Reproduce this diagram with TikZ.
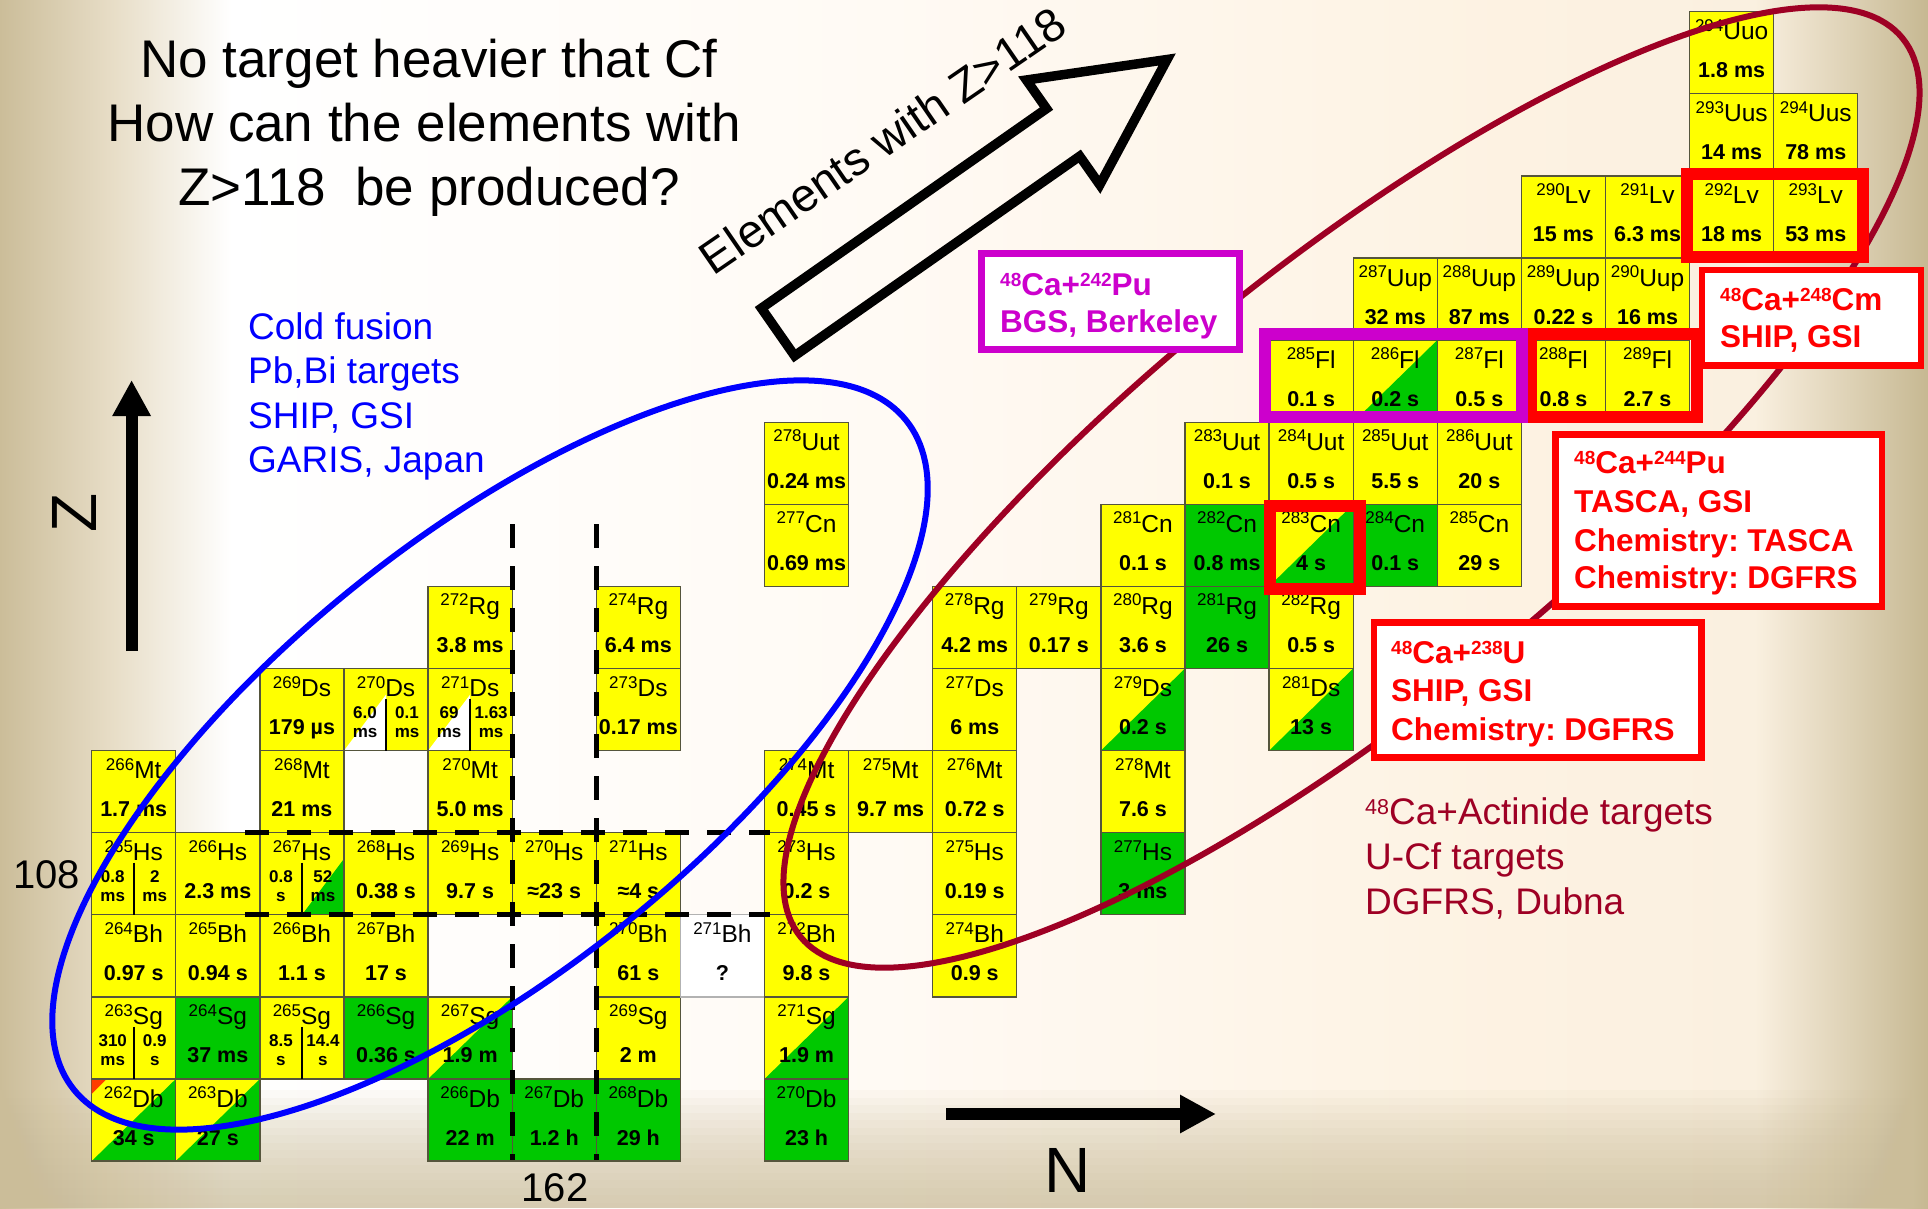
\documentclass[tikz,border=0pt]{standalone}
\usepackage{fontspec}
\setmainfont{Liberation Sans}
\usetikzlibrary{arrows.meta}
\frenchspacing

\definecolor{yel}{RGB}{255,255,0}
\definecolor{grn}{RGB}{0,200,0}
\definecolor{cellline}{RGB}{85,85,60}
\definecolor{tanl}{RGB}{203,189,153}
\definecolor{tanmid}{RGB}{232,222,200}
\definecolor{tanr}{RGB}{198,184,146}
\definecolor{creamA}{RGB}{255,250,244}
\definecolor{creamB}{RGB}{253,242,226}
\definecolor{creamC}{RGB}{250,240,224}
\definecolor{darkred}{RGB}{158,0,36}
\definecolor{magbox}{RGB}{204,0,204}
\definecolor{cornerred}{RGB}{255,60,0}

% page background: tan at both sides, white to cream in between
\pgfdeclarehorizontalshading{bgh}{100bp}{%
  color(0bp)=(tanl); color(25bp)=(tanl); color(28bp)=(tanmid);
  color(31bp)=(white); color(48bp)=(creamA); color(64bp)=(creamB);
  color(70.5bp)=(creamC); color(75bp)=(tanr); color(100bp)=(tanr)}

% mass number + element symbol
\newcommand\isolbl[2]{\raisebox{8.5pt}{\fontsize{17}{17}\selectfont#1}{\fontsize{24.5}{25}\selectfont#2}}
% superscripts in the reaction boxes and in the dark red label
\newcommand\supb[1]{\raisebox{8.5pt}{\fontsize{19}{19}\selectfont#1}}
\newcommand\supr[1]{\raisebox{10pt}{\fontsize{21.5}{21.5}\selectfont#1}}

\tikzset{
  cellbox/.style={draw=cellline, line width=1.3pt, minimum width=84.1pt,
    minimum height=82.1pt, inner sep=0pt, outer sep=0pt},
  cY/.style={fill=yel},
  cG/.style={fill=grn},
  cW/.style={fill=white, draw=black!30},
  cD/.style={fill=yel, path picture={\fill[grn]
    (path picture bounding box.south west) -- (path picture bounding box.south east)
    -- (path picture bounding box.north east) -- cycle;}},
  cWtri/.style={fill=yel, path picture={\fill[white]
    (path picture bounding box.south west) -- (path picture bounding box.south)
    -- ([yshift=56pt]path picture bounding box.south) -- cycle;}},
  cGtri/.style={fill=yel, path picture={\fill[grn]
    (path picture bounding box.south) -- (path picture bounding box.south east)
    -- ([yshift=56pt]path picture bounding box.south east) -- cycle;}},
  isolab/.style={anchor=base, inner sep=0pt},
  hl/.style={anchor=base, inner sep=0pt, font=\fontsize{21.5}{22}\selectfont\bfseries},
  hlsm/.style={anchor=base, inner sep=0pt, font=\fontsize{17}{17}\selectfont\bfseries},
  dashline/.style={line width=5pt, dash pattern=on 24pt off 18pt},
  framebox/.style={line width=12pt},
  reacbox/.style={fill=white, line width=6.5pt, inner sep=0pt},
  reactxt/.style={anchor=base west, inner sep=0pt, text=red, font=\fontsize{31.5}{31.5}\selectfont\bfseries},
  bluetxt/.style={anchor=base west, inner sep=0pt, text=blue, font=\fontsize{37}{37}\selectfont},
  redtxt/.style={anchor=base west, inner sep=0pt, text=darkred, font=\fontsize{37}{37}\selectfont},
  titletxt/.style={anchor=base, inner sep=0pt, font=\fontsize{53}{53}\selectfont},
  axisarrow/.style={line width=12pt, -{Triangle[length=36pt,width=36pt]}},
}

% one nuclide cell: N, Z, A, symbol, half-life, fill kind
\newcommand\nuc[6]{%
  \pgfmathsetmacro\nx{133.75+(#1-157)*84.1}%
  \pgfmathsetmacro\ny{1120.05-(#2-105)*82.1}%
  \node[cellbox,c#6] (c#3#4) at (\nx,\ny) {};
  \node[isolab] (i#3#4) at ([yshift=13.05pt]c#3#4.center) {\isolbl{#3}{#4}};
  \node[hl] (h#3#4) at ([yshift=-24.95pt]c#3#4.center) {#5};
}
% a cell with two isomers: N, Z, A, symbol, left value, left unit, right value, right unit, fill kind
\newcommand\nucsplit[9]{%
  \pgfmathsetmacro\nx{133.75+(#1-157)*84.1}%
  \pgfmathsetmacro\ny{1120.05-(#2-105)*82.1}%
  \node[cellbox,c#9] (c#3#4) at (\nx,\ny) {};
  \node[isolab] (i#3#4) at ([yshift=13.05pt]c#3#4.center) {\isolbl{#3}{#4}};
  \draw[line width=2.2pt] ([yshift=-30pt]c#3#4.north) -- (c#3#4.south);
  \node[hlsm] (a#3#4) at ([xshift=-21pt,yshift=-9pt]c#3#4.center) {#5};
  \node[hlsm] (b#3#4) at ([xshift=-21pt,yshift=-28pt]c#3#4.center) {#6};
  \node[hlsm] (d#3#4) at ([xshift=21pt,yshift=-9pt]c#3#4.center) {#7};
  \node[hlsm] (e#3#4) at ([xshift=21pt,yshift=-28pt]c#3#4.center) {#8};
}

\begin{document}
\begin{tikzpicture}[x=1pt,y=-1pt]
\useasboundingbox (0,0) rectangle (1928,1208);
% background
\shade[shading=bgh] (0,0) rectangle (1928,1208);
\foreach \k in {0,...,15}{\fill[tanl,fill opacity=0.07] (0,{1090+\k*7.5}) rectangle (1928,1208);}

% ---------- Db, Z = 105
\nuc{157}{105}{262}{Db}{34 s}{D}
\nuc{158}{105}{263}{Db}{27 s}{D}
\nuc{161}{105}{266}{Db}{22 m}{G}
\nuc{162}{105}{267}{Db}{1.2 h}{G}
\nuc{163}{105}{268}{Db}{29 h}{G}
\nuc{165}{105}{270}{Db}{23 h}{G}
\fill[cornerred] (c262Db.north west) -- ++(15,0) -- ++(-15,15) -- cycle;
% ---------- Sg, Z = 106
\nucsplit{157}{106}{263}{Sg}{310}{ms}{0.9}{s}{Y}
\nuc{158}{106}{264}{Sg}{37 ms}{G}
\nucsplit{159}{106}{265}{Sg}{8.5}{s}{14.4}{s}{Y}
\nuc{160}{106}{266}{Sg}{0.36 s}{G}
\nuc{161}{106}{267}{Sg}{1.9 m}{D}
\nuc{163}{106}{269}{Sg}{2 m}{Y}
\nuc{165}{106}{271}{Sg}{1.9 m}{D}
% ---------- Bh, Z = 107
\nuc{157}{107}{264}{Bh}{0.97 s}{Y}
\nuc{158}{107}{265}{Bh}{0.94 s}{Y}
\nuc{159}{107}{266}{Bh}{1.1 s}{Y}
\nuc{160}{107}{267}{Bh}{17 s}{Y}
\nuc{163}{107}{270}{Bh}{61 s}{Y}
\nuc{164}{107}{271}{Bh}{?}{W}
\nuc{165}{107}{272}{Bh}{9.8 s}{Y}
\nuc{167}{107}{274}{Bh}{0.9 s}{Y}
% ---------- Hs, Z = 108
\nucsplit{157}{108}{265}{Hs}{0.8}{ms}{2}{ms}{Y}
\nuc{158}{108}{266}{Hs}{2.3 ms}{Y}
\nucsplit{159}{108}{267}{Hs}{0.8}{s}{52}{ms}{Gtri}
\nuc{160}{108}{268}{Hs}{0.38 s}{Y}
\nuc{161}{108}{269}{Hs}{9.7 s}{Y}
\nuc{162}{108}{270}{Hs}{≈23 s}{Y}
\nuc{163}{108}{271}{Hs}{≈4 s}{Y}
\nuc{165}{108}{273}{Hs}{0.2 s}{Y}
\nuc{167}{108}{275}{Hs}{0.19 s}{Y}
\nuc{169}{108}{277}{Hs}{3 ms}{G}
% ---------- Mt, Z = 109
\nuc{157}{109}{266}{Mt}{1.7 ms}{Y}
\nuc{159}{109}{268}{Mt}{21 ms}{Y}
\nuc{161}{109}{270}{Mt}{5.0 ms}{Y}
\nuc{165}{109}{274}{Mt}{0.45 s}{Y}
\nuc{166}{109}{275}{Mt}{9.7 ms}{Y}
\nuc{167}{109}{276}{Mt}{0.72 s}{Y}
\nuc{169}{109}{278}{Mt}{7.6 s}{Y}
% ---------- Ds, Z = 110
\nuc{159}{110}{269}{Ds}{179 µs}{Y}
\nucsplit{160}{110}{270}{Ds}{6.0}{ms}{0.1}{ms}{Wtri}
\nucsplit{161}{110}{271}{Ds}{69}{ms}{1.63}{ms}{Wtri}
\nuc{163}{110}{273}{Ds}{0.17 ms}{Y}
\nuc{167}{110}{277}{Ds}{6 ms}{Y}
\nuc{169}{110}{279}{Ds}{0.2 s}{D}
\nuc{171}{110}{281}{Ds}{13 s}{D}
% ---------- Rg, Z = 111
\nuc{161}{111}{272}{Rg}{3.8 ms}{Y}
\nuc{163}{111}{274}{Rg}{6.4 ms}{Y}
\nuc{167}{111}{278}{Rg}{4.2 ms}{Y}
\nuc{168}{111}{279}{Rg}{0.17 s}{Y}
\nuc{169}{111}{280}{Rg}{3.6 s}{Y}
\nuc{170}{111}{281}{Rg}{26 s}{G}
\nuc{171}{111}{282}{Rg}{0.5 s}{Y}
% ---------- Cn, Z = 112
\nuc{165}{112}{277}{Cn}{0.69 ms}{Y}
\nuc{169}{112}{281}{Cn}{0.1 s}{Y}
\nuc{170}{112}{282}{Cn}{0.8 ms}{G}
\nuc{171}{112}{283}{Cn}{4 s}{D}
\nuc{172}{112}{284}{Cn}{0.1 s}{G}
\nuc{173}{112}{285}{Cn}{29 s}{Y}
% ---------- Uut, Z = 113
\nuc{165}{113}{278}{Uut}{0.24 ms}{Y}
\nuc{170}{113}{283}{Uut}{0.1 s}{Y}
\nuc{171}{113}{284}{Uut}{0.5 s}{Y}
\nuc{172}{113}{285}{Uut}{5.5 s}{Y}
\nuc{173}{113}{286}{Uut}{20 s}{Y}
% ---------- Fl, Z = 114
\nuc{171}{114}{285}{Fl}{0.1 s}{Y}
\nuc{172}{114}{286}{Fl}{0.2 s}{D}
\nuc{173}{114}{287}{Fl}{0.5 s}{Y}
\nuc{174}{114}{288}{Fl}{0.8 s}{Y}
\nuc{175}{114}{289}{Fl}{2.7 s}{Y}
% ---------- Uup, Z = 115
\nuc{172}{115}{287}{Uup}{32 ms}{Y}
\nuc{173}{115}{288}{Uup}{87 ms}{Y}
\nuc{174}{115}{289}{Uup}{0.22 s}{Y}
\nuc{175}{115}{290}{Uup}{16 ms}{Y}
% ---------- Lv, Z = 116
\nuc{174}{116}{290}{Lv}{15 ms}{Y}
\nuc{175}{116}{291}{Lv}{6.3 ms}{Y}
\nuc{176}{116}{292}{Lv}{18 ms}{Y}
\nuc{177}{116}{293}{Lv}{53 ms}{Y}
% ---------- Uus, Z = 117 and Uuo, Z = 118
\nuc{176}{117}{293}{Uus}{14 ms}{Y}
\nuc{177}{117}{294}{Uus}{78 ms}{Y}
\nuc{176}{118}{294}{Uuo}{1.8 ms}{Y}

% shell closures N = 162 and Z = 108
\coordinate (na) at (512.2,524);  \coordinate (nb) at (512.2,1160);
\coordinate (nc) at (596.3,524);  \coordinate (nd) at (596.3,1160);
\coordinate (za) at (245,832.7);  \coordinate (zb) at (770,832.7);
\coordinate (zc) at (245,914.8);  \coordinate (zd) at (770,914.8);
\draw[dashline] (na) -- (nb);
\draw[dashline] (nc) -- (nd);
\draw[dashline] (za) -- (zb);
\draw[dashline] (zc) -- (zd);

% cold-fusion and hot-fusion regions
\draw[blue, line width=6pt, rotate around={38.8:(490,755)}] (490,755) ellipse [x radius=534, y radius=216];
\draw[darkred, line width=6pt, rotate around={39.2:(1351.5,487.5)}] (1351.5,487.5) ellipse [x radius=711, y radius=218];

% frames around the nuclides made in each reaction
\draw[red, framebox] (1531,333.5) rectangle (1697,416.5);
\draw[red, framebox] (1687,174) rectangle (1863,257);
\draw[red, framebox] (1270,505.5) rectangle (1360,589);
\draw[magbox, framebox] (1265,333.5) rectangle (1522,416.5);

% reaction boxes
\node[reacbox, draw=magbox, minimum width=258pt, minimum height=96pt] (bgs) at (1110.5,301.5) {};
\node[reactxt, text=magbox] (bgs1) at (1000,295) {\supb{48}Ca+\supb{242}Pu};
\node[reactxt, text=magbox] (bgs2) at (1000,332) {BGS, Berkeley};

\node[reacbox, draw=red, minimum width=219pt, minimum height=95.5pt] (cm) at (1811.5,317.75) {};
\node[reactxt] (cm1) at (1720,310) {\supb{48}Ca+\supb{248}Cm};
\node[reactxt] (cm2) at (1720,347) {SHIP, GSI};

\node[reacbox, draw=red, minimum width=326.5pt, minimum height=172.2pt] (pu) at (1718.75,520.6) {};
\node[reactxt] (pu1) at (1574,473) {\supb{48}Ca+\supb{244}Pu};
\node[reactxt] (pu2) at (1574,512.7) {TASCA, GSI};
\node[reactxt] (pu3) at (1574,551) {Chemistry: TASCA};
\node[reactxt] (pu4) at (1574,588.3) {Chemistry: DGFRS};

\node[reacbox, draw=red, minimum width=327.5pt, minimum height=135pt] (u) at (1537.75,690) {};
\node[reactxt] (u1) at (1391,663) {\supb{48}Ca+\supb{238}U};
\node[reactxt] (u2) at (1391,701.7) {SHIP, GSI};
\node[reactxt] (u3) at (1391,740) {Chemistry: DGFRS};

% region labels
\node[bluetxt] (b1) at (248,339) {Cold fusion};
\node[bluetxt] (b2) at (248,383) {Pb,Bi targets};
\node[bluetxt] (b3) at (248,428) {SHIP, GSI};
\node[bluetxt] (b4) at (248,472.5) {GARIS, Japan};

\node[redtxt] (r1) at (1365,824) {\supr{48}Ca+Actinide targets};
\node[redtxt] (r2) at (1365,869) {U-Cf targets};
\node[redtxt] (r3) at (1365,914) {DGFRS, Dubna};

% question
\node[titletxt] (t1) at (429,77) {No target heavier that Cf};
\node[titletxt] (t2) at (424,141) {How can the elements with};
\node[titletxt] (t3) at (429,205) {Z>118\ \ be produced?};

% hollow arrow towards heavier elements
\draw[line width=9.5pt, line join=miter]
  (794.6,355.8) -- (1079.7,156.2) -- (1099.8,184.8) -- (1167.1,59.5)
  -- (1026.4,80.0) -- (1046.5,108.6) -- (761.4,308.2) -- cycle;
\node[rotate=34.5, anchor=base, inner sep=0pt, font=\fontsize{46.5}{46.5}\selectfont] (elab) at (892,154) {Elements with Z>118};

% axes
\coordinate (zfoot) at (131.6,651);
\coordinate (zhead) at (131.6,380);
\draw[axisarrow] (zfoot) -- (zhead);
\node[rotate=90, inner sep=0pt, font=\fontsize{64}{64}\selectfont] (zlab) at (74.5,512.5) {Z};

\coordinate (nfoot) at (946,1114);
\coordinate (nhead) at (1216,1114);
\draw[axisarrow] (nfoot) -- (nhead);
\node[inner sep=0pt, font=\fontsize{64}{64}\selectfont] (nlab) at (1068,1170.5) {N};

\node[anchor=base, inner sep=0pt, font=\fontsize{40}{40}\selectfont] (z108) at (46.5,888) {108};
\node[anchor=base, inner sep=0pt, font=\fontsize{40}{40}\selectfont] (n162) at (555,1201) {162};
\end{tikzpicture}
\end{document}
